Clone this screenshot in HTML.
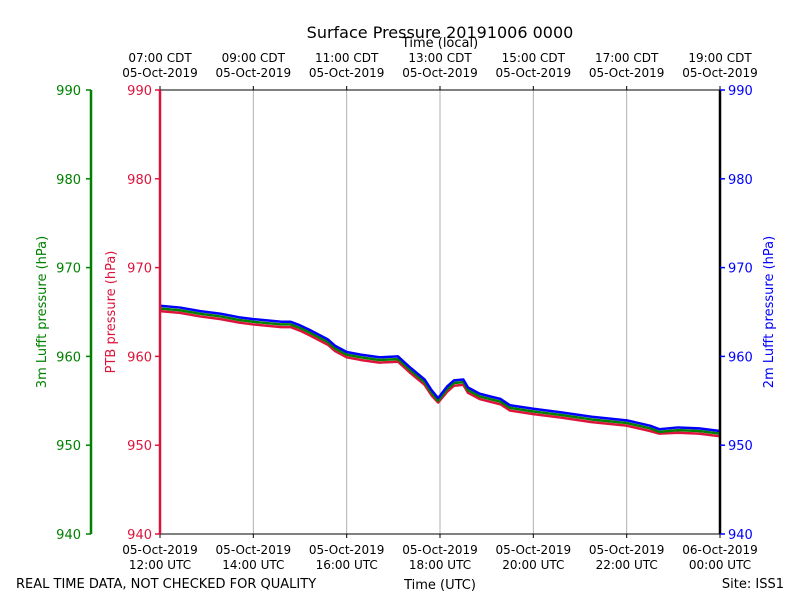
<!DOCTYPE html>
<html><head><meta charset="utf-8"><style>
body{margin:0;background:#fff}
svg text{font-family:"DejaVu Sans","Liberation Sans",sans-serif}
</style></head><body>
<svg id="c" width="800" height="600" xmlns="http://www.w3.org/2000/svg">
<rect width="800" height="600" fill="#fff"/>
<text x="440" y="38" font-size="16" text-anchor="middle">Surface Pressure 20191006 0000</text>
<text x="440" y="47" font-size="13" text-anchor="middle">Time (local)</text>
<text x="440" y="589" font-size="13" text-anchor="middle">Time (UTC)</text>
<text x="16" y="588" font-size="13">REAL TIME DATA, NOT CHECKED FOR QUALITY</text>
<text x="784" y="588" font-size="13" text-anchor="end">Site: ISS1</text>
<text transform="translate(46,312) rotate(-90)" font-size="13" fill="green" text-anchor="middle">3m Lufft pressure (hPa)</text>
<text transform="translate(115,312) rotate(-90)" font-size="13" fill="crimson" text-anchor="middle">PTB pressure (hPa)</text>
<text transform="translate(773,312) rotate(-90)" font-size="13" fill="blue" text-anchor="middle">2m Lufft pressure (hPa)</text>
<g id="g"></g>
</svg>
<script>
const hours=[0,0.43,0.86,1.3,1.7,2,2.6,2.8,3,3.2,3.6,3.75,4,4.3,4.7,5.1,5.35,5.67,5.82,5.96,6.15,6.3,6.5,6.6,6.85,7.07,7.3,7.5,8,8.6,9.25,10,10.5,10.7,11.1,11.55,12];
const blue=[965.7,965.5,965.1,964.8,964.4,964.2,963.9,963.9,963.5,963.0,961.9,961.2,960.5,960.2,959.9,960.0,958.8,957.4,956.2,955.3,956.6,957.3,957.4,956.5,955.8,955.5,955.2,954.5,954.1,953.7,953.2,952.8,952.2,951.8,952.0,951.9,951.6];
const green=[965.4,965.2,964.8,964.5,964.1,963.9,963.6,963.6,963.2,962.7,961.6,960.9,960.2,959.9,959.6,959.7,958.5,957.1,955.9,955.0,956.3,957.0,957.1,956.2,955.5,955.2,954.9,954.2,953.8,953.4,952.9,952.5,951.9,951.5,951.7,951.6,951.3];
const red=[965.1,964.9,964.5,964.2,963.8,963.6,963.3,963.3,962.9,962.4,961.3,960.6,959.9,959.6,959.3,959.4,958.2,956.8,955.6,954.8,956.0,956.7,956.8,955.9,955.2,954.9,954.6,953.9,953.5,953.1,952.6,952.2,951.6,951.3,951.4,951.3,951.0];
const yTicks=[940,950,960,970,980,990];
const xTicks=[0,2,4,6,8,10,12];
const utcLabels=[["05-Oct-2019","12:00 UTC"],["05-Oct-2019","14:00 UTC"],["05-Oct-2019","16:00 UTC"],["05-Oct-2019","18:00 UTC"],["05-Oct-2019","20:00 UTC"],["05-Oct-2019","22:00 UTC"],["06-Oct-2019","00:00 UTC"]];
const cdtLabels=[["07:00 CDT","05-Oct-2019"],["09:00 CDT","05-Oct-2019"],["11:00 CDT","05-Oct-2019"],["13:00 CDT","05-Oct-2019"],["15:00 CDT","05-Oct-2019"],["17:00 CDT","05-Oct-2019"],["19:00 CDT","05-Oct-2019"]];
const X0=160,X1=720,Y0=534,Y1=90;
const xs=h=>X0+(X1-X0)*h/12, ys=v=>Y0-(Y0-Y1)*(v-940)/50;
const g=document.getElementById('g'),NS='http://www.w3.org/2000/svg';
function mk(t,a,p){const e=document.createElementNS(NS,t);for(const k in a)e.setAttribute(k,a[k]);(p||g).appendChild(e);return e;}
xTicks.forEach((h,i)=>{
 if(i>0&&i<xTicks.length-1){const l=mk('line',{x1:xs(h),x2:xs(h),y1:Y1,y2:Y0,stroke:'#b0b0b0','stroke-width':1});
 
 }
 mk('line',{x1:xs(h),x2:xs(h),y1:Y0,y2:Y0+4,stroke:'#000'});
 mk('line',{x1:xs(h),x2:xs(h),y1:Y1,y2:Y1-4,stroke:'#000'});
 const t=mk('text',{x:xs(h),y:Y0+20,'font-size':12,'text-anchor':'middle'});
 
 
 t.innerHTML=`<tspan x="${xs(h)}">${utcLabels[i][0]}</tspan><tspan x="${xs(h)}" dy="15">${utcLabels[i][1]}</tspan>`;
 const u=mk('text',{x:xs(h),y:Y1-28,'font-size':12,'text-anchor':'middle'});
 
 
 u.innerHTML=`<tspan x="${xs(h)}">${cdtLabels[i][0]}</tspan><tspan x="${xs(h)}" dy="15">${cdtLabels[i][1]}</tspan>`;
});
function series(d,c,name){const p=mk('polyline',{points:hours.map((h,i)=>xs(h)+','+ys(d[i])).join(' '),fill:'none',stroke:c,'stroke-width':2.5,'stroke-linejoin':'round'});
 
 }
series(red,'crimson','ptb-line');series(green,'green','lufft-3m-line');series(blue,'blue','lufft-2m-line');
mk('line',{x1:X0,x2:X1,y1:Y1,y2:Y1,stroke:'#000'});
mk('line',{x1:X0,x2:X1,y1:Y0,y2:Y0,stroke:'#000'});
mk('line',{x1:X0,x2:X0,y1:Y1,y2:Y0,stroke:'crimson','stroke-width':2.5});
mk('line',{x1:X1,x2:X1,y1:Y1,y2:Y0,stroke:'#000','stroke-width':2.5});
mk('line',{x1:91,x2:91,y1:Y1,y2:Y0,stroke:'green','stroke-width':2.5});
yTicks.forEach(v=>{const y=ys(v);
 mk('line',{x1:X0,x2:X0-5,y1:y,y2:y,stroke:'crimson','stroke-width':1.5});
 mk('line',{x1:91,x2:86,y1:y,y2:y,stroke:'green','stroke-width':1.5});
 mk('line',{x1:X1,x2:X1+5,y1:y,y2:y,stroke:'blue','stroke-width':1.5});
 [[X0-8,'end','crimson'],[81,'end','green'],[X1+8,'start','blue']].forEach(([x,a,c])=>{
  const t=mk('text',{x:x,y:y+5,'font-size':13,'text-anchor':a,fill:c});
  
  
  t.textContent=v;});
});
</script>
</body></html>
